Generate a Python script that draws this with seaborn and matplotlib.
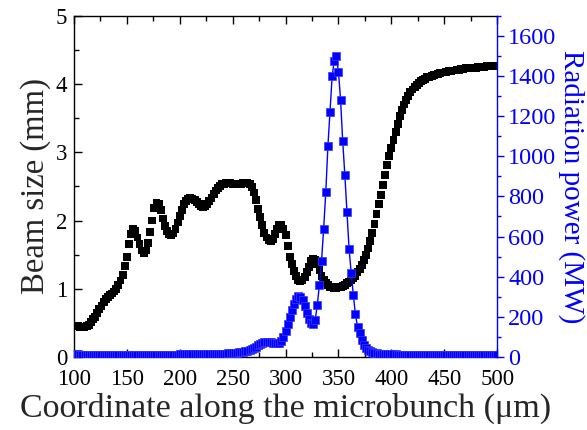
import numpy as np
import pandas as pd
import matplotlib
matplotlib.use("Agg")
import matplotlib.pyplot as plt
import seaborn as sns
from matplotlib.ticker import MultipleLocator

# ---------------- data ----------------
coord = list(range(100, 501, 2))  # µm

beam_size = [
    0.45, 0.45, 0.45, 0.44, 0.44, 0.44, 0.45, 0.47, 0.51, 0.55,   # 100-118
    0.59, 0.64, 0.70, 0.75, 0.81, 0.85, 0.88, 0.91, 0.93, 0.96,   # 120-138
    0.99, 1.05, 1.12, 1.20, 1.33, 1.47, 1.66, 1.80, 1.87, 1.84,   # 140-158
    1.75, 1.65, 1.56, 1.52, 1.56, 1.67, 1.83, 2.00, 2.18, 2.26,   # 160-178
    2.24, 2.15, 2.03, 1.92, 1.85, 1.80, 1.79, 1.81, 1.88, 1.97,   # 180-198
    2.06, 2.16, 2.24, 2.29, 2.32, 2.33, 2.32, 2.30, 2.27, 2.24,   # 200-218
    2.21, 2.20, 2.21, 2.24, 2.28, 2.33, 2.39, 2.44, 2.48, 2.51,   # 220-238
    2.53, 2.54, 2.55, 2.55, 2.55, 2.54, 2.53, 2.53, 2.53, 2.54,   # 240-258
    2.55, 2.55, 2.55, 2.54, 2.49, 2.41, 2.30, 2.17, 2.05, 1.93,   # 260-278
    1.82, 1.75, 1.71, 1.70, 1.73, 1.80, 1.88, 1.93, 1.93, 1.88,   # 280-298
    1.79, 1.62, 1.47, 1.36, 1.26, 1.18, 1.13, 1.11, 1.12, 1.17,   # 300-318
    1.24, 1.32, 1.40, 1.44, 1.42, 1.36, 1.27, 1.19, 1.13, 1.08,   # 320-338
    1.05, 1.03, 1.02, 1.01, 1.01, 1.02, 1.03, 1.04, 1.06, 1.08,   # 340-358
    1.10, 1.12, 1.15, 1.19, 1.24, 1.29, 1.35, 1.42, 1.50, 1.59,   # 360-378
    1.70, 1.82, 1.95, 2.09, 2.24, 2.38, 2.52, 2.67, 2.81, 2.94,   # 380-398
    3.06, 3.18, 3.30, 3.42, 3.53, 3.62, 3.70, 3.77, 3.83, 3.88,   # 400-418
    3.92, 3.96, 3.99, 4.02, 4.04, 4.06, 4.08, 4.10, 4.11, 4.12,   # 420-438
    4.13, 4.14, 4.15, 4.16, 4.17, 4.17, 4.18, 4.19, 4.19, 4.20,   # 440-458
    4.20, 4.21, 4.21, 4.22, 4.22, 4.23, 4.23, 4.23, 4.24, 4.24,   # 460-478
    4.24, 4.25, 4.25, 4.25, 4.25, 4.26, 4.26, 4.26, 4.26, 4.27,   # 480-498
    4.27,                                                         # 500
]

radiation_power = [
    12, 12, 12, 11, 11, 11, 11, 10, 10, 10,            # 100-118
    10, 10, 10, 10, 10, 10, 10, 10, 10, 10,            # 120-138
    9, 9, 9, 8, 8, 8, 7, 7, 7, 7,                      # 140-158
    7, 7, 7, 7, 7, 8, 8, 8, 8, 8,                      # 160-178
    9, 9, 9, 10, 10, 10, 11, 11, 11, 11,               # 180-198
    12, 12, 12, 12, 12, 12, 13, 13, 13, 13,            # 200-218
    13, 13, 14, 14, 14, 14, 15, 15, 15, 15,            # 220-238
    15, 16, 16, 17, 18, 18, 19, 20, 22, 24,            # 240-258
    25, 28, 30, 34, 38, 43, 50, 57, 64, 70,            # 260-278
    74, 76, 76, 73, 70, 68, 68, 70, 80, 100,           # 280-298
    130, 165, 200, 235, 265, 290, 302, 300, 285, 255,  # 300-318
    220, 190, 168, 162, 185, 260, 360, 480, 640, 822,  # 320-338
    1050, 1220, 1398, 1477, 1498, 1420, 1280, 1075, 908, 720,  # 340-358
    540, 420, 310, 213, 150, 118, 85, 60, 45, 35,      # 360-378
    28, 22, 19, 17, 15, 14, 13, 13, 12, 12,            # 380-398
    12, 12, 12, 11, 11, 11, 11, 11, 11, 11,            # 400-418
    11, 11, 11, 11, 11, 11, 11, 11, 11, 11,            # 420-438
    11, 11, 11, 11, 11, 11, 11, 11, 11, 11,            # 440-458
    11, 11, 11, 11, 11, 11, 11, 11, 11, 11,            # 460-478
    11, 11, 11, 11, 11, 11, 11, 11, 11, 11,            # 480-498
    11,                                                # 500
]

x_label = "Coordinate along the microbunch (μm)"
y_left_label = "Beam size (mm)"
y_right_label = "Radiation power (MW)"

df = pd.DataFrame({"coord": coord, "beam": beam_size, "power": radiation_power})

# ---------------- style ----------------
sns.set_style("ticks")
plt.rcParams["font.family"] = ["Liberation Serif", "DejaVu Serif"]
plt.rcParams["mathtext.fontset"] = "stix"

fig = plt.figure(figsize=(5.87, 4.30), dpi=100)
ax = fig.add_axes([0.126, 0.170, 0.721, 0.793])
ax2 = ax.twinx()

sns.scatterplot(data=df, x="coord", y="beam", ax=ax, marker="s", s=32,
                color="black", edgecolor="none", linewidth=0, zorder=3)
sns.lineplot(data=df, x="coord", y="power", ax=ax2, color="#0000FF",
             marker="s", markersize=5.6, markeredgecolor="#3a3aff",
             markeredgewidth=0.5, linewidth=1.0)

ax.set_xlim(100, 500)
ax.set_ylim(0, 5)
ax2.set_ylim(0, 1700)

ax.xaxis.set_major_locator(MultipleLocator(50))
ax.xaxis.set_minor_locator(MultipleLocator(25))
ax.yaxis.set_major_locator(MultipleLocator(1))
ax.yaxis.set_minor_locator(MultipleLocator(0.5))
ax2.yaxis.set_major_locator(MultipleLocator(200))
ax2.yaxis.set_minor_locator(MultipleLocator(100))

ax.tick_params(axis="both", which="both", direction="in", top=True,
               right=False, labelsize=16.5, colors="black", width=1.0)
ax.tick_params(axis="x", which="major", length=6, pad=9)
ax.tick_params(axis="x", which="minor", length=3.5)
ax.tick_params(axis="y", which="major", length=6, pad=5)
ax.tick_params(axis="y", which="minor", length=3.5)

ax2.tick_params(axis="y", which="both", direction="out", colors="#0000FF",
                labelsize=17.5, width=1.0)
ax2.tick_params(axis="y", which="major", length=5, pad=3)
ax2.tick_params(axis="y", which="minor", length=3)

for side in ["left", "bottom", "top"]:
    ax.spines[side].set_linewidth(1.0)
    ax.spines[side].set_color("black")
for side in ["left", "bottom", "top"]:
    ax2.spines[side].set_visible(False)
ax2.spines["right"].set_color("#0000FF")
ax2.spines["right"].set_linewidth(1.0)
ax.spines["right"].set_visible(False)

ax.set_xlabel(x_label, fontsize=24.5, labelpad=2)
ax.set_ylabel(y_left_label, fontsize=23.5, labelpad=3)
ax2.set_ylabel(y_right_label, fontsize=21, color="#0000FF",
               rotation=270, labelpad=20)

fig.savefig("out.png", dpi=100)
